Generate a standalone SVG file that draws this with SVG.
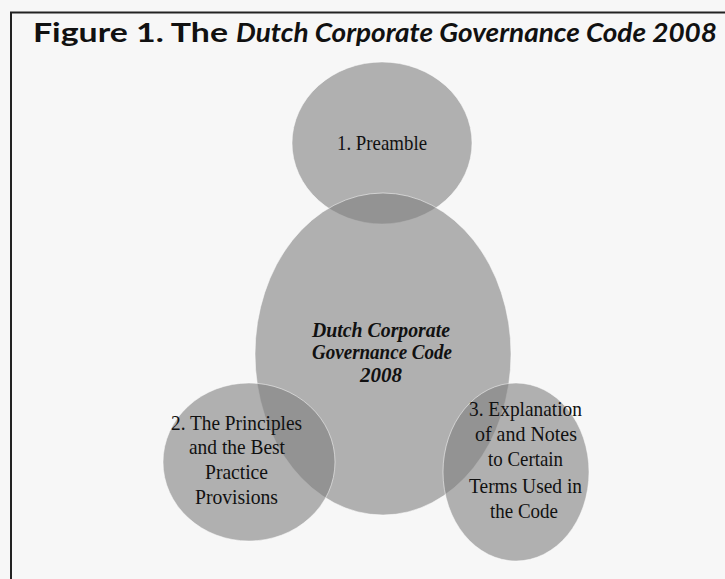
<svg xmlns="http://www.w3.org/2000/svg" width="725" height="579" viewBox="0 0 725 579">
  <style>
    .bubble { fill: #808080; fill-opacity: 0.6; stroke: #ffffff; stroke-opacity: 0.5; stroke-width: 1; }
    .lbl { font-family: "Liberation Serif", "Times New Roman", serif; font-size: 22px; fill: #111111; }
    .core { font-family: "Liberation Serif", "Times New Roman", serif; font-size: 20px; font-weight: bold; font-style: italic; fill: #111111; }
    .title { font-family: Lato, "Open Sans", "Liberation Sans", sans-serif; font-size: 27px; font-weight: bold; fill: #111111; }
  </style>

  <!-- page background and frame -->
  <rect x="0" y="0" width="725" height="579" fill="#f7f7f7"/>
  <path d="M11 579 V12.5 H725" fill="none" stroke="#222222" stroke-width="2"/>

  <!-- heading -->
  <g id="title">
    <text class="title" x="33" y="42" textLength="195" lengthAdjust="spacingAndGlyphs">Figure 1. The</text>
    <text class="title" x="236" y="42" font-style="italic" textLength="481" lengthAdjust="spacingAndGlyphs">Dutch Corporate Governance Code 2008</text>
  </g>

  <!-- parts of the code -->
  <g id="preamble">
    <ellipse class="bubble" cx="382" cy="143" rx="90" ry="81"/>
    <text class="lbl" x="337" y="150" textLength="90" lengthAdjust="spacingAndGlyphs">1. Preamble</text>
  </g>

  <g id="code">
    <ellipse class="bubble" cx="383" cy="354" rx="128" ry="161"/>
    <text class="core" x="312" y="337" textLength="138" lengthAdjust="spacingAndGlyphs">Dutch Corporate</text>
    <text class="core" x="312" y="359" textLength="140" lengthAdjust="spacingAndGlyphs">Governance Code</text>
    <text class="core" x="360" y="382" textLength="42" lengthAdjust="spacingAndGlyphs">2008</text>
  </g>

  <g id="principles">
    <ellipse class="bubble" cx="249" cy="462" rx="86" ry="79"/>
    <text class="lbl" x="171" y="430" textLength="131" lengthAdjust="spacingAndGlyphs">2. The Principles</text>
    <text class="lbl" x="189" y="454" textLength="96" lengthAdjust="spacingAndGlyphs">and the Best</text>
    <text class="lbl" x="205" y="479" textLength="63" lengthAdjust="spacingAndGlyphs">Practice</text>
    <text class="lbl" x="195" y="504" textLength="83" lengthAdjust="spacingAndGlyphs">Provisions</text>
  </g>

  <g id="explanation">
    <ellipse class="bubble" cx="516" cy="472" rx="73" ry="89"/>
    <text class="lbl" x="469" y="416" textLength="113" lengthAdjust="spacingAndGlyphs">3. Explanation</text>
    <text class="lbl" x="475" y="441" textLength="102" lengthAdjust="spacingAndGlyphs">of and Notes</text>
    <text class="lbl" x="488" y="466" textLength="75" lengthAdjust="spacingAndGlyphs">to Certain</text>
    <text class="lbl" x="469" y="493" textLength="113" lengthAdjust="spacingAndGlyphs">Terms Used in</text>
    <text class="lbl" x="490" y="518" textLength="68" lengthAdjust="spacingAndGlyphs">the Code</text>
  </g>
</svg>
